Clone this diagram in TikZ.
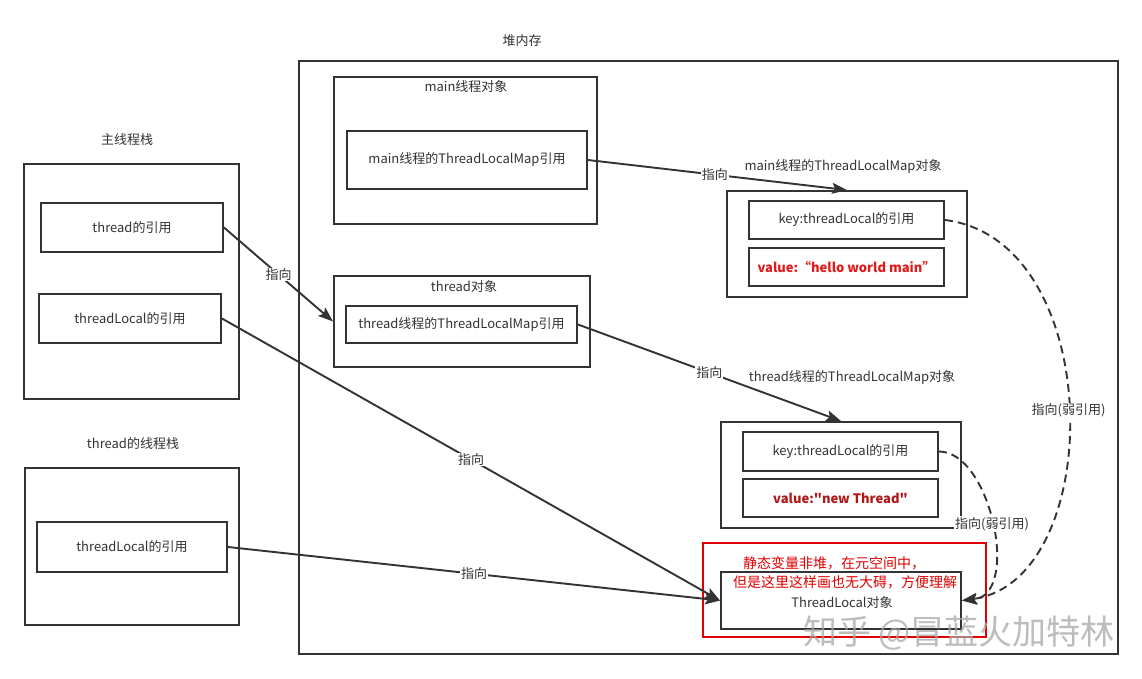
\documentclass[tikz,border=0pt]{standalone}
\usepackage{fontspec}
\setmainfont{Noto Sans CJK SC}[Ligatures=TeXOff]
\usetikzlibrary{arrows.meta}
\definecolor{ink}{HTML}{333333}
\definecolor{redA}{HTML}{E01B1B}
\definecolor{redB}{HTML}{B01818}
\definecolor{redC}{HTML}{E00000}
\tikzset{
  box/.style={draw=ink, line width=1.9pt, rectangle, inner sep=0pt, text=ink, font=\fontsize{13}{15}\selectfont},
  txt/.style={text=ink, font=\fontsize{13}{15}\selectfont, inner sep=1pt},
  conn/.style={draw=ink, line width=1.9pt, -{Stealth[length=15pt,width=11pt,inset=3pt]}},
  weak/.style={draw=ink, line width=1.9pt, dash pattern=on 8pt off 5pt, -{Stealth[length=15pt,width=11pt,inset=3pt]}},
  lbl/.style={fill=white, text=ink, font=\fontsize{13}{15}\selectfont, inner sep=1pt}
}
\begin{document}
\begin{tikzpicture}[x=1pt,y=-1pt]
\useasboundingbox[fill=white] (0,0) rectangle (1142,679);
% main stack
\node[txt] (lmstack) at (127,140) {主线程栈};
\node[box, minimum width=215pt, minimum height=235pt] (mstack) at (131.5,281.5) {};
\node[box, minimum width=182pt, minimum height=49pt] (tref) at (132,227.5) {thread的引用};
\node[box, minimum width=182pt, minimum height=49pt] (tlref1) at (130,318.5) {threadLocal的引用};
% thread stack
\node[txt] (ltstack) at (133,444) {thread的线程栈};
\node[box, minimum width=214pt, minimum height=157pt] (tstack) at (132,546.5) {};
\node[box, minimum width=190pt, minimum height=50pt] (tlref2) at (132,547) {threadLocal的引用};
% heap
\node[txt] (lheap) at (522,41) {堆内存};
\node[box, minimum width=819pt, minimum height=593pt] (heap) at (708.5,357.5) {};
\node[box, minimum width=263pt, minimum height=147pt] (mobj) at (465.5,150.5) {};
\node[txt] (lmobj) at (466,87) {main线程对象};
\node[box, minimum width=240pt, minimum height=58pt] (mmapref) at (467,160) {main线程的ThreadLocalMap引用};
\node[box, minimum width=256pt, minimum height=91pt] (tobj) at (462,321.5) {};
\node[txt] (ltobj) at (464,287) {thread对象};
\node[box, minimum width=231pt, minimum height=37pt] (tmapref) at (461.5,324.5) {thread线程的ThreadLocalMap引用};
% main map
\node[txt] (lmmap) at (843,167) {main线程的ThreadLocalMap对象};
\node[box, minimum width=240pt, minimum height=106pt] (mmap) at (847,244) {};
\node[box, minimum width=195pt, minimum height=38pt] (mkey) at (846.5,220) {key:threadLocal的引用};
\node[box, minimum width=195pt, minimum height=38pt, text=redA, font=\fontsize{13}{15}\selectfont\bfseries] (mval) at (846.5,267) {value:“hello world main”};
% thread map
\node[txt] (ltmap) at (852,377) {thread线程的ThreadLocalMap对象};
\node[box, minimum width=240pt, minimum height=106pt] (tmap) at (841,475) {};
\node[box, minimum width=195pt, minimum height=39pt] (tkey) at (840.5,451.5) {key:threadLocal的引用};
\node[box, minimum width=195pt, minimum height=38pt, text=redB, font=\fontsize{13}{15}\selectfont\bfseries] (tval) at (840.5,498) {value:"new Thread"};
% ThreadLocal object
\node[box, minimum width=240pt, minimum height=57pt] (tlobj) at (841,600.5) {};
\node[txt] (ltlobj) at (842,603) {ThreadLocal对象};
\node[draw=redC, line width=1.9pt, rectangle, minimum width=283pt, minimum height=94pt, inner sep=0pt] (redbox) at (844.5,590) {};
\node[text=redC, font=\fontsize{14}{16}\selectfont, inner sep=0pt] (rnote1) at (834,563) {静态变量非堆，在元空间中，};
\node[text=redC, font=\fontsize{14}{16}\selectfont, inner sep=0pt] (rnote2) at (845,582) {但是这里这样画也无大碍，方便理解};
% connectors
\draw[conn] (tref.east) -- node[lbl] {指向} (tobj.west);
\draw[conn] (tlref1.east) -- node[lbl] {指向} (tlobj.west);
\draw[conn] (tlref2.east) -- node[lbl] {指向} (tlobj.west);
\draw[conn] (mmapref.east) -- node[lbl, pos=0.49] {指向} (mmap.north);
\draw[conn] (tmapref.east) -- node[lbl] {指向} (tmap.north);
\draw[weak] (mkey.east) .. controls +(162,20) and +(145,-20) .. node[lbl] {指向(弱引用)} (tlobj.east);
\draw[weak] (tkey.east) .. controls +(52,0) and +(59,-5) .. node[lbl] {指向(弱引用)} (tlobj.east);
% watermark
\node[text=gray!70, opacity=0.75, font=\fontsize{34}{36}\selectfont, inner sep=0pt] (wm) at (959,633) {知乎 @冒蓝火加特林};
\end{tikzpicture}
\end{document}
